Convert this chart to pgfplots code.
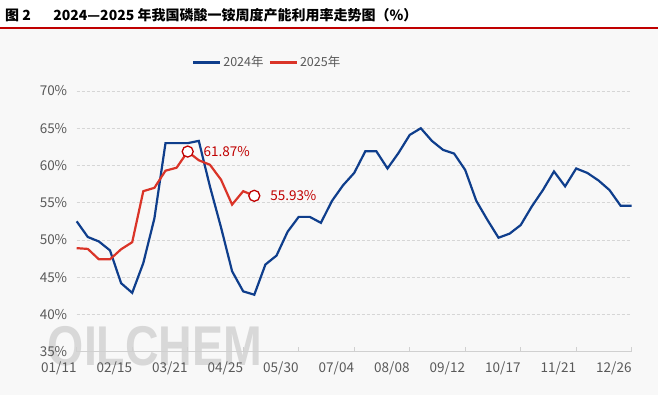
\documentclass[border=0pt]{standalone}
\usepackage{pgfplots}
\pgfplotsset{compat=1.18}
\usepackage{pgfplotstable}
\usepackage{fontspec}
\setmainfont{Noto Sans CJK SC}
\newfontfamily\wmfont{Liberation Sans}
\definecolor{bgc}{HTML}{F8F8F8}
\definecolor{titleline}{HTML}{C00000}
\definecolor{c24}{HTML}{0F3E8C}
\definecolor{c25}{HTML}{DA3428}
\definecolor{lab25}{HTML}{C00000}
\definecolor{labelgray}{HTML}{595959}
\definecolor{gridgray}{HTML}{D6D6D6}
\definecolor{axisgray}{HTML}{D0D0D0}
\definecolor{wm}{HTML}{D8D8D8}

\pgfplotstableread{
i v
0 52.5
1 50.4
2 49.8
3 48.6
4 44.2
5 42.9
6 46.9
7 52.9
8 63.0
9 63.0
10 63.0
11 63.3
12 57.2
13 51.7
14 45.8
15 43.1
16 42.65
17 46.7
18 47.9
19 51.1
20 53.1
21 53.1
22 52.3
23 55.25
24 57.35
25 59.0
26 61.9
27 61.9
28 59.6
29 61.7
30 64.1
31 65.0
32 63.3
33 62.1
34 61.6
35 59.4
36 55.25
37 52.7
38 50.3
39 50.85
40 52.0
41 54.5
42 56.7
43 59.2
44 57.2
45 59.6
46 59.0
47 58.0
48 56.7
49 54.6
50 54.6
}\dataA

\pgfplotstableread{
i v
0 48.9
1 48.8
2 47.4
3 47.4
4 48.75
5 49.7
6 56.55
7 57.0
8 59.3
9 59.7
10 61.87
11 60.7
12 60.1
13 58.1
14 54.75
15 56.55
16 55.93
}\dataB

\begin{document}
\begin{tikzpicture}
\useasboundingbox (0,0) rectangle (658bp,395bp);
\fill[white] (0,0) rectangle (658bp,395bp);
\fill[bgc] (0,0) rectangle (658bp,367bp);
\draw[titleline, line width=1.2bp] (0,367bp) -- (658bp,367bp);
\node[anchor=west, inner sep=0] at (5bp,380bp) {\fontsize{14bp}{17bp}\selectfont\bfseries 图 2\hspace{1.6em}2024—2025 年我国磷酸一铵周度产能利用率走势图（\%）};
\node[anchor=base, inner sep=0, text=wm, xscale=0.83] at (155bp,30bp) {\fontsize{56bp}{60bp}\selectfont\wmfont\bfseries OILCHEM};
\begin{axis}[
  at={(76.7bp,43.3bp)}, anchor=south west,
  width=555bp, height=260.7bp, scale only axis,
  xmin=0, xmax=50, ymin=35, ymax=70,
  axis x line*=bottom, axis y line*=left,
  y axis line style={draw=none},
  x axis line style={draw=axisgray, line width=1bp, -},
  xtick={0,5,...,50},
  xticklabels={01/11,02/15,03/21,04/25,05/30,07/04,08/08,09/12,10/17,11/21,12/26},
  tick align=inside,
  major tick length=5bp,
  xtick style={draw=axisgray, line width=0.8bp},
  ytick={35,40,...,70},
  ytick style={draw=none},
  yticklabel={\pgfmathprintnumber{\tick}\%},
  /pgf/number format/assume math mode=true,
  ymajorgrids,
  grid style={draw=gridgray, dash pattern=on 3bp off 2bp, line width=0.7bp},
  xticklabel style={anchor=north east, inner xsep=0pt, yshift=-7bp, font=\fontsize{13.5bp}{15bp}\selectfont, text=labelgray},
  yticklabel style={xshift=-6bp, font=\fontsize{13.5bp}{15bp}\selectfont, text=labelgray},
  legend style={at={(0.343,1.11)}, anchor=center, draw=none, fill=none,
    legend columns=2, font=\fontsize{12.5bp}{14bp}\selectfont, text=labelgray,
    /tikz/every even column/.append style={column sep=3bp}},
  legend image code/.code={\draw[#1, line width=2.5bp] (0bp,0bp) -- (27bp,0bp);},
  clip=false,
]
\addplot[c24, line width=2.2bp, no markers] table[x=i, y=v] {\dataA};
\addlegendentry{2024年}
\addplot[c25, line width=2.2bp, no markers] table[x=i, y=v] {\dataB};
\addlegendentry{2025年}
\addplot[only marks, mark=*, mark size=5.5bp, mark options={fill=white, draw=lab25, line width=1.3bp},
  nodes near coords={\pgfmathprintnumber[fixed, fixed zerofill, precision=2]{\pgfplotspointmeta}\%},
  point meta=explicit,
  nodes near coords style={anchor=west, xshift=12bp, yshift=0bp, text=lab25, font=\fontsize{13.5bp}{15bp}\selectfont},
  forget plot] coordinates {(10,61.87) [61.87] (16,55.93) [55.93]};
\end{axis}
\end{tikzpicture}
\end{document}
